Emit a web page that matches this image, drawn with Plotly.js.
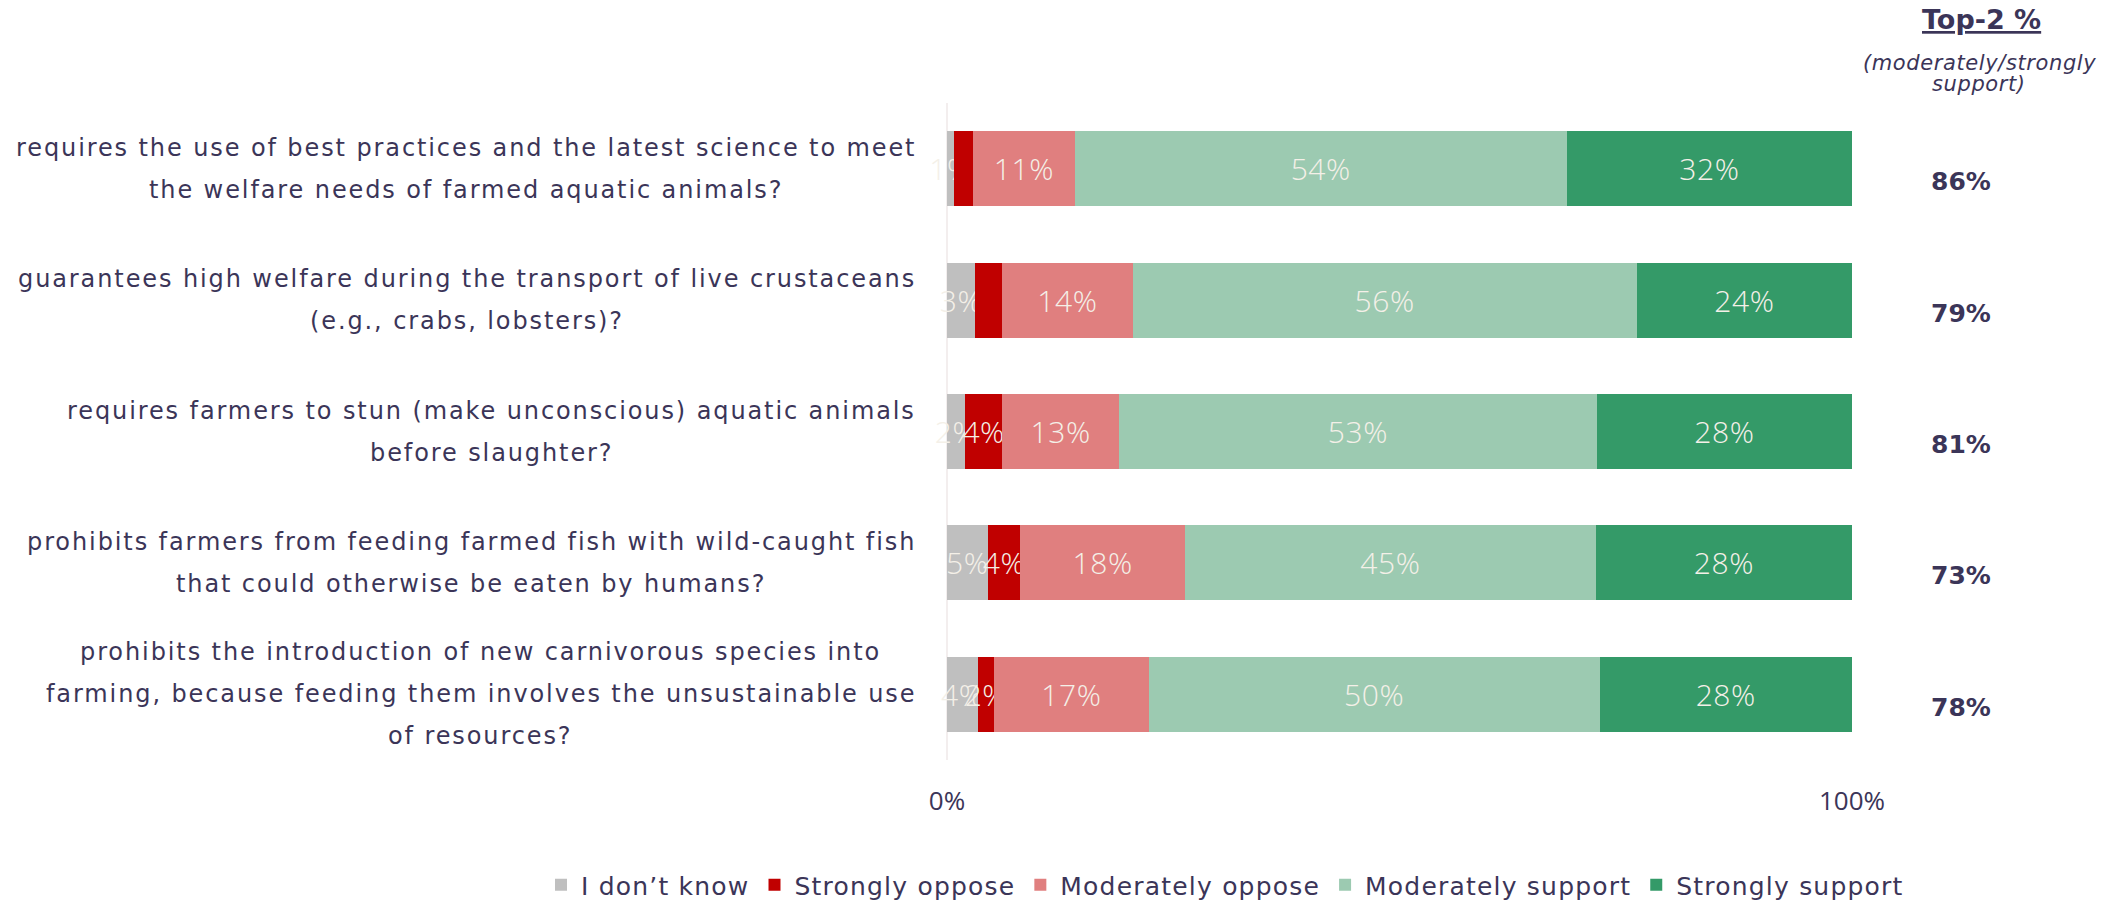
<!DOCTYPE html>
<html><head><meta charset="utf-8">
<script src="https://cdn.plot.ly/plotly-3.0.1.min.js"></script>
<style>
html,body{margin:0;padding:0;background:#fff}
#chart{width:2103px;height:900px}
text.annotation-text[style*="font-size: 24px"]{letter-spacing:1.9px}
text.annotation-text[style*="font-size: 21px"]{letter-spacing:0.6px}
text.legendtext{letter-spacing:1.2px}
text.bartext{letter-spacing:0.6px}
path.legendbar{transform:translate(20px,0px) scale(1.4)}
</style>
</head><body><div id="chart"></div>
<script>
// ---- data ----
const questions = [
  'requires the use of best practices and the latest science to meet<br>the welfare needs of farmed aquatic animals?',
  'guarantees high welfare during the transport of live crustaceans<br>(e.g., crabs, lobsters)?',
  'requires farmers to stun (make unconscious) aquatic animals<br>before slaughter?',
  'prohibits farmers from feeding farmed fish with wild-caught fish<br>that could otherwise be eaten by humans?',
  'prohibits the introduction of new carnivorous species into<br>farming, because feeding them involves the unsustainable use<br>of resources?'
];
const seriesNames = ['I don\u2019t know', 'Strongly oppose', 'Moderately oppose', 'Moderately support', 'Strongly support'];
const dontKnow          = [0.8, 3.1, 2.0, 4.5, 3.4];
const stronglyOppose    = [2.1, 3.0, 4.1, 3.6, 1.8];
const moderatelyOppose  = [11.2, 14.4, 12.9, 18.2, 17.1];
const moderatelySupport = [54.4, 55.7, 52.8, 45.4, 49.8];
const stronglySupport   = [31.5, 23.8, 28.2, 28.3, 27.9];
const dontKnowLabels          = ['1%', '3%', '2%', '5%', '4%'];
const stronglyOpposeLabels    = ['', '', '4%', '4%', '2%'];
const moderatelyOpposeLabels  = ['11%', '14%', '13%', '18%', '17%'];
const moderatelySupportLabels = ['54%', '56%', '53%', '45%', '50%'];
const stronglySupportLabels   = ['32%', '24%', '28%', '28%', '28%'];
const top2 = ['86%', '79%', '81%', '73%', '78%'];
const top2Header = 'Top-2 %';
const top2Sub = ['(moderately/strongly', 'support)'];
const xTickVals = [0, 100];
const xTickText = ['0%', '100%'];

// ---- styling ----
const colors = ['#bfbfbf', '#c00000', '#e07f7f', '#9ccab1', '#349a68'];
const ink = '#3b3558';
const barText = '#f4f0e8';
const seriesValues = [dontKnow, stronglyOppose, moderatelyOppose, moderatelySupport, stronglySupport];
const seriesLabels = [dontKnowLabels, stronglyOpposeLabels, moderatelyOpposeLabels, moderatelySupportLabels, stronglySupportLabels];

const traces = seriesNames.map((name, i) => ({
  type: 'bar', orientation: 'h', name: name,
  y: questions, x: seriesValues[i],
  text: seriesLabels[i], textposition: 'inside', insidetextanchor: 'middle', textangle: 0,
  constraintext: 'none', cliponaxis: false,
  textfont: {family: 'Open Sans', size: 30, color: barText, weight: 300},
  insidetextfont: {family: 'Open Sans', size: 30, color: barText, weight: 300},
  marker: {color: colors[i], line: {width: 0}},
  hoverinfo: 'skip'
}));

const L = 947, PW = 905, PT = 103, PH = 657;
const toPaperX = px => (px - L) / PW;
const toPaperY = py => (PT + PH - py) / PH;

// measure label lines for centered multi-line blocks
const labelSize = 24, labelSpacing = 1.9;
const cv = document.createElement('canvas').getContext('2d');
cv.font = labelSize + 'px "DejaVu Sans"';
const textW = s => cv.measureText(s).width + s.length * labelSpacing;
const annotations = [];
const lineGap = 42;
const rightEdge = 916;
questions.forEach((q, r) => {
  const lines = q.split('<br>');
  const maxW = Math.max(...lines.map(textW));
  const cx = rightEdge - maxW / 2;
  lines.forEach((s, i) => {
    annotations.push({
      xref: 'paper', yref: 'y', x: toPaperX(cx), y: q, xanchor: 'center', yanchor: 'middle',
      text: s, showarrow: false, yshift: ((lines.length - 1) / 2 - i) * lineGap,
      font: {family: 'DejaVu Sans', size: labelSize, color: ink}
    });
  });
  annotations.push({
    xref: 'paper', yref: 'y', x: toPaperX(1961), y: q, xanchor: 'center', yanchor: 'middle',
    text: '<b>' + top2[r] + '</b>', showarrow: false, yshift: -13,
    font: {family: 'DejaVu Sans', size: 25, color: ink}
  });
});
annotations.push({
  xref: 'paper', yref: 'paper', x: toPaperX(1981), y: toPaperY(19), xanchor: 'center', yanchor: 'middle',
  text: '<b><u>' + top2Header + '</u></b>', showarrow: false,
  font: {family: 'DejaVu Sans', size: 27, color: ink}
});
top2Sub.forEach((s, i) => {
  annotations.push({
    xref: 'paper', yref: 'paper', x: toPaperX(1979), y: toPaperY(63 + i * 21), xanchor: 'center', yanchor: 'middle',
    text: '<i>' + s + '</i>', showarrow: false,
    font: {family: 'DejaVu Sans', size: 21, color: ink}
  });
});

const layout = {
  width: 2103, height: 900,
  margin: {l: L, r: 2103 - L - PW, t: PT, b: 900 - PT - PH, autoexpand: false},
  paper_bgcolor: '#ffffff', plot_bgcolor: '#ffffff',
  barmode: 'stack', bargap: 0.43,
  showlegend: true,
  legend: {orientation: 'h', x: toPaperX(541), xanchor: 'left',
           y: toPaperY(885), yanchor: 'middle', itemwidth: 30,
           font: {family: 'DejaVu Sans', size: 25, color: ink}, traceorder: 'normal'},
  xaxis: {range: [0, 100], tickvals: xTickVals, ticktext: xTickText, showgrid: false,
          zeroline: true, zerolinecolor: '#f3eeee', zerolinewidth: 2,
          ticks: 'outside', ticklen: 18, tickcolor: 'rgba(0,0,0,0)', showline: false,
          tickfont: {family: 'Open Sans', size: 26, color: ink}, fixedrange: true},
  yaxis: {type: 'category', autorange: 'reversed', showticklabels: false, showgrid: false,
          zeroline: false, showline: false, ticks: '', fixedrange: true},
  annotations: annotations,
  hovermode: false
};

Plotly.newPlot('chart', traces, layout, {displayModeBar: false, staticPlot: true});
</script>
</body></html>
